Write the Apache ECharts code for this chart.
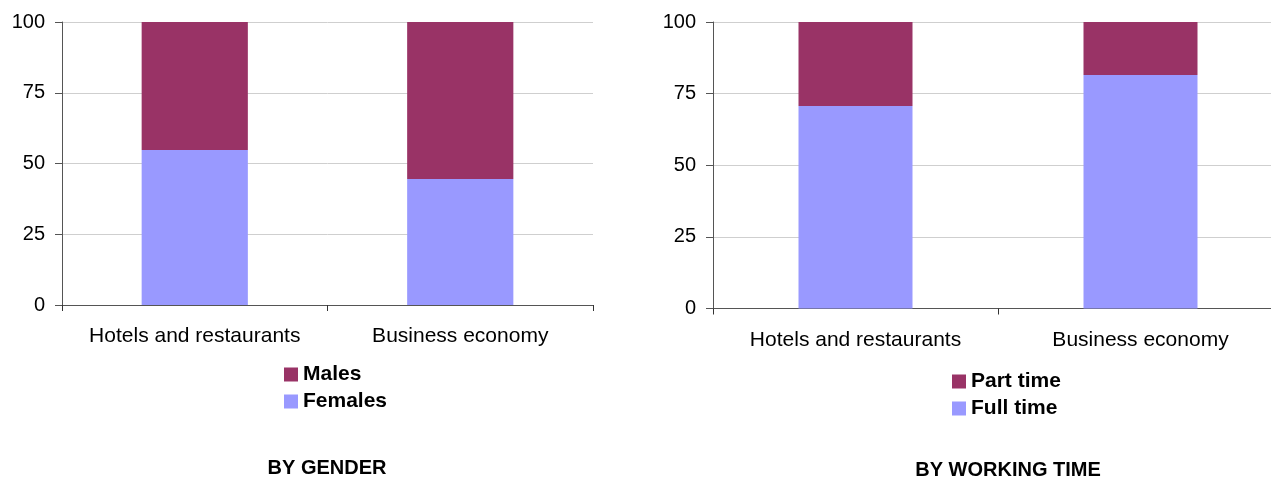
<!DOCTYPE html>
<html>
<head>
<meta charset="utf-8">
<script src="https://cdn.jsdelivr.net/npm/echarts@6/dist/echarts.min.js"></script>
<style>
  html, body { margin: 0; padding: 0; overflow: hidden; background: #fff; }
  #main { width: 1285px; height: 479px; }
</style>
</head>
<body>
<div id="main"></div>
<script>
const categories = ['Hotels and restaurants', 'Business economy'];
const females = [54.8, 44.5];
const males = [45.2, 55.5];
const fullTime = [70.7, 81.5];
const partTime = [29.3, 18.5];
const yTicks = [0, 25, 50, 75, 100];

const purple = '#993366';
const lilac = '#9999ff';
const font = 'Arial, "Liberation Sans", sans-serif';

function yAxis(gridIndex) {
  return {
    type: 'value',
    gridIndex: gridIndex,
    min: yTicks[0],
    max: yTicks[yTicks.length - 1],
    interval: yTicks[1] - yTicks[0],
    axisLine: {show: true, lineStyle: {color: '#555', width: 1}},
    axisTick: {show: true, length: 7, lineStyle: {color: '#555'}},
    axisLabel: {color: '#000', fontSize: 20, fontFamily: font, margin: 17},
    splitLine: {show: true, lineStyle: {color: '#cfcfcf', width: 1}}
  };
}

function xAxis(gridIndex, margin) {
  return {
    type: 'category',
    gridIndex: gridIndex,
    data: categories,
    axisLine: {show: true, lineStyle: {color: '#555', width: 1}},
    axisTick: {show: true, length: 6, interval: 0, lineStyle: {color: '#333'}},
    axisLabel: {color: '#000', fontSize: 21, fontFamily: font, margin: margin, interval: 0}
  };
}

function bar(name, data, color, idx) {
  return {
    type: 'bar',
    name: name,
    data: data,
    stack: 's' + idx,
    xAxisIndex: idx,
    yAxisIndex: idx,
    barWidth: '40%',
    itemStyle: {color: color},
    emphasis: {disabled: true}
  };
}

const legendText = {color: '#000', fontSize: 21, fontWeight: 'bold', fontFamily: font};
const titleText = {color: '#000', fontSize: 20, fontWeight: 'bold', fontFamily: font};

const chart = echarts.init(document.getElementById('main'));
chart.setOption({
  animation: false,
  grid: [
    {left: 62, top: 22, width: 531, height: 283},
    {left: 713, top: 22, width: 570, height: 286.5}
  ],
  xAxis: [xAxis(0, 21), xAxis(1, 21.5)],
  yAxis: [yAxis(0), yAxis(1)],
  legend: [
    {
      data: ['Males', 'Females'],
      orient: 'vertical',
      left: 284, top: 364, padding: 0,
      itemWidth: 14, itemHeight: 14, itemGap: 6, itemStyle: {borderWidth: 0},
      icon: 'rect',
      textStyle: legendText
    },
    {
      data: ['Part time', 'Full time'],
      orient: 'vertical',
      left: 952, top: 371, padding: 0,
      itemWidth: 14, itemHeight: 14, itemGap: 6, itemStyle: {borderWidth: 0},
      icon: 'rect',
      textStyle: legendText
    }
  ],
  title: [
    {
      text: 'BY GENDER', left: 327, top: 458, textAlign: 'center', padding: 0,
      textStyle: titleText
    },
    {
      text: 'BY WORKING TIME', left: 1008, top: 460, textAlign: 'center', padding: 0,
      textStyle: titleText
    }
  ],
  series: [
    bar('Females', females, lilac, 0),
    bar('Males', males, purple, 0),
    bar('Full time', fullTime, lilac, 1),
    bar('Part time', partTime, purple, 1)
  ]
});
</script>
</body>
</html>
